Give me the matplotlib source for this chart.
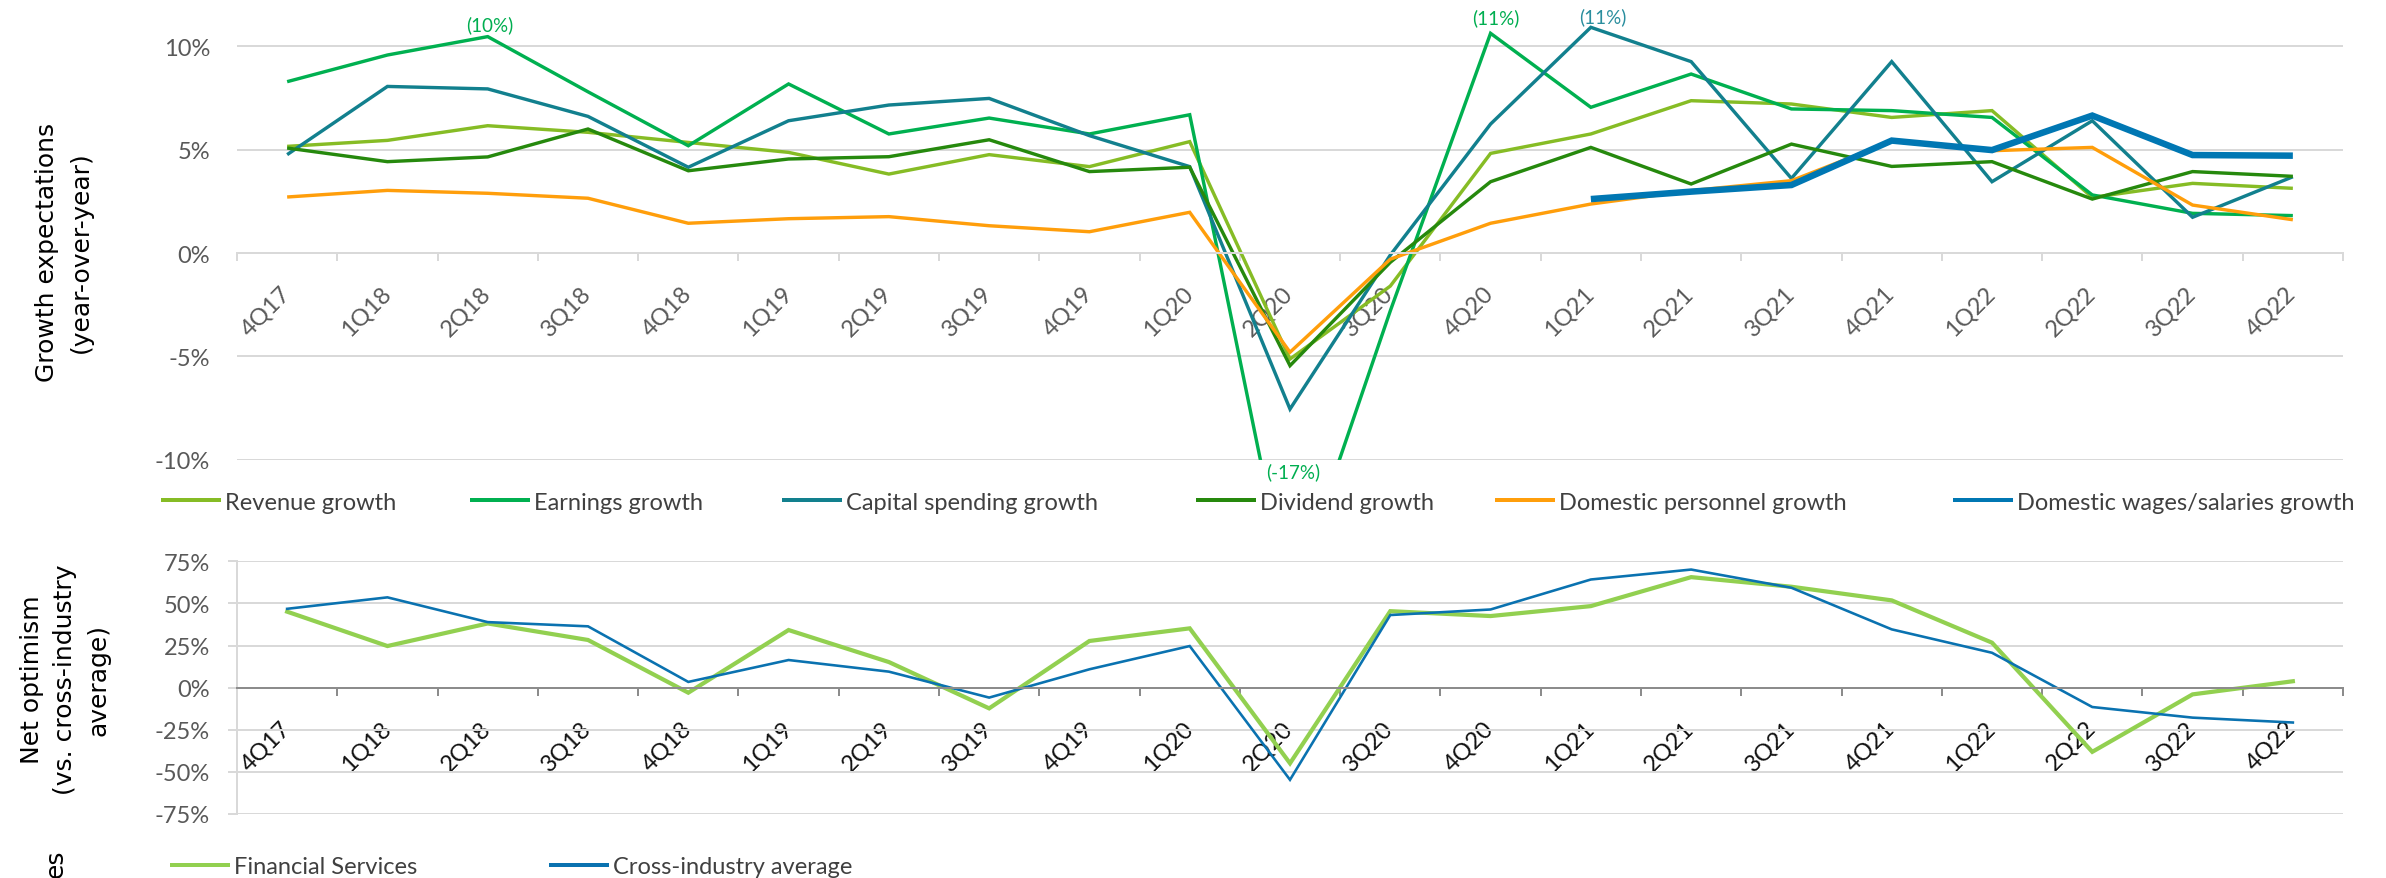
import numpy as np
import matplotlib
matplotlib.use("Agg")
import matplotlib.pyplot as plt
from matplotlib.lines import Line2D
from matplotlib.transforms import ScaledTranslation

# ---------------- data ----------------
quarters = ["4Q17", "1Q18", "2Q18", "3Q18", "4Q18", "1Q19", "2Q19", "3Q19",
            "4Q19", "1Q20", "2Q20", "3Q20", "4Q20", "1Q21", "2Q21", "3Q21",
            "4Q21", "1Q22", "2Q22", "3Q22", "4Q22"]

revenue = [5.16, 5.45, 6.16, 5.84, 5.35, 4.87, 3.82, 4.76, 4.18, 5.39, -5.13,
           -1.6, 4.82, 5.76, 7.37, 7.21, 6.56, 6.89, 2.69, 3.37, 3.13]
earnings = [8.29, 9.58, 10.47, 7.8, 5.19, 8.18, 5.76, 6.53, 5.76, 6.69, -17.0,
            -2.8, 10.63, 7.05, 8.66, 6.97, 6.89, 6.56, 2.81, 1.92, 1.81]
capex = [4.76, 8.06, 7.94, 6.61, 4.15, 6.40, 7.16, 7.48, 5.68, 4.18, -7.55,
         -0.1, 6.24, 10.92, 9.26, 3.61, 9.26, 3.45, 6.40, 1.73, 3.69]
dividend = [5.08, 4.42, 4.65, 6.0, 3.98, 4.55, 4.66, 5.48, 3.94, 4.15, -5.45,
            -0.45, 3.45, 5.11, 3.34, 5.27, 4.19, 4.42, 2.61, 3.94, 3.71]
personnel = [2.71, 3.03, 2.89, 2.65, 1.44, 1.66, 1.76, 1.32, 1.03, 1.97, -4.8,
             -0.3, 1.44, 2.37, 3.02, 3.5, 5.4, 4.95, 5.11, 2.32, 1.61]
wages = [np.nan] * 13 + [2.61, 2.97, 3.29, 5.44, 4.98, 6.65, 4.74, 4.71]

fin_services = [45.1, 24.7, 38.1, 28.3, -3.0, 34.2, 15.2, -12.3, 27.7, 35.2,
                -44.9, 45.4, 42.5, 48.4, 65.6, 59.9, 51.8, 26.7, -38.1, -4.0, 3.8]
cross_industry = [46.8, 53.6, 38.9, 36.4, 3.4, 16.4, 9.5, -5.9, 10.9, 24.7,
                  -54.7, 43.1, 46.4, 64.2, 70.1, 59.3, 34.6, 20.7, -11.5, -17.8, -20.7]

growth_ticks = [-10, -5, 0, 5, 10]
growth_tick_labels = ["-10%", "-5%", "0%", "5%", "10%"]
optimism_ticks = [-75, -50, -25, 0, 25, 50, 75]
optimism_tick_labels = ["-75%", "-50%", "-25%", "0%", "25%", "50%", "75%"]

# labelled extreme points: (series name, quarter)
callouts = [("earnings", "2Q18"), ("earnings", "4Q20"),
            ("capex", "1Q21"), ("earnings", "2Q20")]

# ---------------- style ----------------
W, H = 2386, 879
DPI = 100
UI_FONT = "Lato"
TITLE_FONT = "DejaVu Sans"
GRID = "#D9D9D9"
TICK_GRAY = "#595959"
LEGEND_TXT = "#404040"

C_REV = "#86BC25"
C_EARN = "#00B050"
C_CAPEX = "#12808E"
C_DIV = "#26890D"
C_PERS = "#FF9E0B"
C_WAGE = "#0077B3"
C_FS = "#92D050"
C_CROSS = "#0A72B0"

# pixel offsets (dx, dy) of each callout label from its point
callout_offsets = {("earnings", "2Q18"): (2, 12),
                   ("earnings", "4Q20"): (5, 16),
                   ("capex", "1Q21"): (12, 11),
                   ("earnings", "2Q20"): (3, -12)}

px = 72.0 / DPI  # points per pixel

fig = plt.figure(figsize=(W / DPI, H / DPI), dpi=DPI)
fig.patch.set_facecolor("white")

x = np.arange(len(quarters))


def setup_category_axis(ax, label_color, axis_color):
    # spine position first: moving it rebuilds the tick objects
    ax.spines["bottom"].set_position(("data", 0))
    ax.spines["bottom"].set_color(axis_color)
    ax.spines["bottom"].set_linewidth(2 * px)
    ax.spines["top"].set_visible(False)
    ax.spines["right"].set_visible(False)
    ax.set_xlim(-0.5, len(quarters) - 0.5)
    ax.set_xticks(x)
    ax.set_xticks(np.arange(-0.5, len(quarters), 1.0), minor=True)
    ax.tick_params(axis="x", which="major", length=0, pad=29 * px,
                   labelsize=17, labelcolor=label_color)
    ax.tick_params(axis="x", which="minor", length=8 * px, width=2 * px,
                   color=axis_color, direction="out")
    ax.set_xticklabels(quarters, rotation=45, ha="right", va="top",
                       fontfamily=UI_FONT)
    shift = ScaledTranslation(7 / DPI, 0, fig.dpi_scale_trans)
    for lab in ax.get_xticklabels():
        lab.set_transform(lab.get_transform() + shift)
    ax.yaxis.grid(True, color=GRID, linewidth=2 * px)
    ax.set_axisbelow(True)


# ---------------- top panel: growth expectations ----------------
left = 237 / W
width = (2343 - 237) / W
ax1 = fig.add_axes([left, 1 - 460.7 / H, width, (460.7 - 6.0) / H])
ax1.spines["left"].set_visible(False)
setup_category_axis(ax1, TICK_GRAY, GRID)
ax1.set_ylim(-10, 12)
ax1.set_yticks(growth_ticks)
ax1.set_yticklabels(growth_tick_labels, fontfamily=UI_FONT)
ax1.tick_params(axis="y", length=0, pad=27 * px, labelsize=17,
                labelcolor=TICK_GRAY)

lw = 3.4 * px
series = {
    "revenue": (revenue, C_REV, lw, "Revenue growth"),
    "earnings": (earnings, C_EARN, lw, "Earnings growth"),
    "capex": (capex, C_CAPEX, lw, "Capital spending growth"),
    "dividend": (dividend, C_DIV, lw, "Dividend growth"),
    "personnel": (personnel, C_PERS, lw, "Domestic personnel growth"),
    "wages": (wages, C_WAGE, 6.5 * px, "Domestic wages/salaries growth"),
}
for key, (vals, col, w_, lab) in series.items():
    ax1.plot(x, vals, color=col, lw=w_, solid_joinstyle="miter",
             solid_capstyle="butt")

label_colors = {"earnings": "#00AE50", "capex": "#2A8E9E"}
ymin = ax1.get_ylim()[0]
for key, q in callouts:
    i = quarters.index(q)
    v = series[key][0][i]
    dx, dy = callout_offsets[(key, q)]
    ax1.annotate(f"({v:.0f}%)", xy=(i, max(v, ymin)), xytext=(dx, dy),
                 textcoords="offset pixels", ha="center", va="center",
                 color=label_colors[key], fontsize=13.5,
                 fontfamily=UI_FONT, annotation_clip=False)

fig.text(64 / W, 1 - 252 / H, "Growth expectations\n(year-over-year)",
         rotation=90, ha="center", va="center", fontsize=18,
         fontfamily=TITLE_FONT, linespacing=1.55, color="black")

# ---------------- bottom panel: net optimism ----------------
ax2 = fig.add_axes([left, 1 - 815 / H, width, (815 - 562.3) / H])
ax2.spines["left"].set_color(GRID)
ax2.spines["left"].set_linewidth(2 * px)
setup_category_axis(ax2, "#111111", "#8C8C8C")
ax2.set_ylim(-75, 75)
ax2.set_yticks(optimism_ticks)
ax2.set_yticklabels(optimism_tick_labels, fontfamily=UI_FONT)
ax2.tick_params(axis="y", length=9 * px, width=2 * px, color=GRID,
                pad=18 * px, labelsize=17, labelcolor=TICK_GRAY)

ax2.plot(x, fin_services, color=C_FS, lw=4.2 * px, solid_joinstyle="miter")
ax2.plot(x, cross_industry, color=C_CROSS, lw=2.6 * px, solid_joinstyle="miter")

fig.text(65 / W, 1 - 680 / H, "Net optimism\n(vs. cross-industry\naverage)",
         rotation=90, ha="center", va="center", fontsize=18,
         fontfamily=TITLE_FONT, linespacing=1.5, color="black")
fig.text(56 / W, 1 / H, "es", rotation=90, ha="center",
         va="bottom", fontsize=18, fontfamily=TITLE_FONT, color="black")


# ---------------- legends ----------------
def legend_entry(color, label, x_px, y_px):
    handle = Line2D([], [], color=color, lw=4 * px, solid_capstyle="butt")
    fig.legend([handle], [label], loc="center left",
               bbox_to_anchor=(x_px / W, 1 - y_px / H), frameon=False,
               borderpad=0, borderaxespad=0, handlelength=2.55,
               handletextpad=0.17, labelcolor=LEGEND_TXT,
               prop={"family": UI_FONT, "size": 17})


top_legend_x = [161, 470, 782, 1196, 1495, 1953]
for (key, (vals, col, w_, lab)), xp in zip(series.items(), top_legend_x):
    legend_entry(col, lab, xp, 503)

legend_entry(C_FS, "Financial Services", 170, 868)
legend_entry(C_CROSS, "Cross-industry average", 549, 868)

fig.savefig("out.png", dpi=DPI, facecolor="white")
